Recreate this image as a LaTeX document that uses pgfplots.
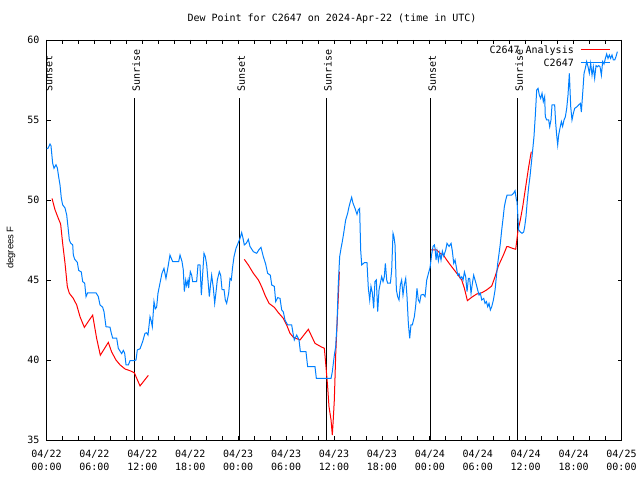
\documentclass[border=0pt]{standalone}
\usepackage{fontspec}
\setmainfont{DejaVu Sans Mono}
\newfontfamily\labelfont{Liberation Sans}
\usepackage{pgfplots}
\pgfplotsset{compat=1.18}
\definecolor{obsblue}{RGB}{0,128,255}
\definecolor{anared}{RGB}{255,0,0}
\begin{document}
\fontsize{10bp}{12.7bp}\selectfont
\begin{tikzpicture}
\begin{axis}[
  scale only axis, width=575bp, height=400bp,
  xmin=0, xmax=72, ymin=35, ymax=60,
  axis line style={line width=0.8bp},
  every tick/.style={black, line width=0.8bp},
  major tick length=4bp, minor tick length=4bp,
  tick align=inside,
  xtick={0,6,...,72}, minor xtick={0,2,...,72},
  xticklabels={{04/22\\00:00},{04/22\\06:00},{04/22\\12:00},{04/22\\18:00},{04/23\\00:00},{04/23\\06:00},{04/23\\12:00},{04/23\\18:00},{04/24\\00:00},{04/24\\06:00},{04/24\\12:00},{04/24\\18:00},{04/25\\00:00}},
  xticklabel style={align=center, inner sep=0pt, anchor=north, yshift=-10bp, font=\fontsize{10bp}{12.7bp}\selectfont},
  ytick={35,40,...,60},
  yticklabel style={inner sep=0pt, anchor=east, xshift=-7bp},
  /pgf/number format/assume math mode=true,
  title={Dew Point for C2647 on 2024-Apr-22 (time in UTC)},
  title style={at={(0.5,1)}, anchor=base, yshift=13bp, xshift=-2bp, inner sep=0pt},
  ylabel={\labelfont degrees F},
  ylabel style={at={(axis description cs:-0.0617,0.481)}, anchor=center, inner sep=0pt, font=\fontsize{9.5bp}{11bp}\selectfont},
]
% sunset / sunrise markers
\addplot[black, line width=0.8bp, forget plot] coordinates {(0.03,35) (0.03,56.36)};
\addplot[black, line width=0.8bp, forget plot] coordinates {(10.99,35) (10.99,56.36)};
\addplot[black, line width=0.8bp, forget plot] coordinates {(24.14,35) (24.14,56.36)};
\addplot[black, line width=0.8bp, forget plot] coordinates {(35.0,35) (35.0,56.36)};
\addplot[black, line width=0.8bp, forget plot] coordinates {(48.06,35) (48.06,56.36)};
\addplot[black, line width=0.8bp, forget plot] coordinates {(58.95,35) (58.95,56.36)};
\node[rotate=90, anchor=base west, inner sep=0pt] at (axis cs:0.72,56.74) {Sunset};
\node[rotate=90, anchor=base west, inner sep=0pt] at (axis cs:11.68,56.74) {Sunrise};
\node[rotate=90, anchor=base west, inner sep=0pt] at (axis cs:24.83,56.74) {Sunset};
\node[rotate=90, anchor=base west, inner sep=0pt] at (axis cs:35.69,56.74) {Sunrise};
\node[rotate=90, anchor=base west, inner sep=0pt] at (axis cs:48.75,56.74) {Sunset};
\node[rotate=90, anchor=base west, inner sep=0pt] at (axis cs:59.64,56.74) {Sunrise};
% analysis
\addplot[draw=anared, line width=1bp] coordinates {
(0.69,50.1) (1.06,49.4) (1.48,48.85) (1.77,48.5) (2.02,47.3) (2.32,46.04) (2.61,44.58) (2.86,44.17)
(3.36,43.85) (3.78,43.44) (4.20,42.7) (4.74,42.04) (5.36,42.5) (5.78,42.8) (6.28,41.35) (6.74,40.3)
(7.74,41.1) (8.16,40.5) (8.70,40.0) (9.20,39.7) (9.83,39.44) (10.46,39.33) (11.0,39.2) (11.71,38.38) (12.75,39.04)
};
\addplot[draw=anared, line width=1bp] coordinates {
(24.77,46.29) (25.27,45.94) (25.90,45.42) (26.53,45.0) (26.94,44.58) (27.44,43.96) (27.86,43.54) (28.53,43.29)
(29.03,42.96) (29.66,42.6) (30.07,42.19) (30.49,41.67) (30.91,41.42) (31.74,41.25) (32.79,41.92) (33.62,41.04)
(34.37,40.83) (34.79,40.73) (34.96,39.79) (35.21,38.3) (35.37,37.1) (35.63,36.25) (35.79,35.3) (35.92,36.4)
(36.04,37.5) (36.13,38.96) (36.21,40.3) (36.38,42.2) (36.54,43.96) (36.67,45.52)
};
\addplot[draw=anared, line width=1bp] coordinates {
(48.15,46.88) (48.86,46.88) (49.28,46.67) (49.70,46.56) (50.11,46.25) (50.74,45.83) (51.37,45.42) (51.99,45.0)
(52.33,44.48) (52.70,43.71) (53.24,43.92) (53.87,44.125) (54.50,44.2) (55.12,44.38) (55.75,44.625) (56.17,45.21)
(56.58,45.875) (57.21,46.56) (57.63,47.08) (57.83,47.08) (58.34,46.98) (58.75,46.92) (58.92,47.6) (59.04,48.1)
(59.33,48.75) (59.63,49.58) (59.88,50.42) (60.13,51.25) (60.38,52.08) (60.63,52.81) (60.71,53.02)
};
% observations
\addplot[draw=obsblue, line width=1bp] coordinates {
(0.0,53.2) (0.19,53.23) (0.44,53.5) (0.56,53.4) (0.77,52.3) (0.94,51.98) (1.19,52.2) (1.36,52.0) (1.52,51.46)
(1.69,50.94) (1.86,50.1) (2.02,49.7) (2.32,49.5) (2.53,49.06) (2.69,48.33) (2.86,47.5) (3.03,47.3) (3.28,47.2)
(3.36,46.56) (3.53,46.3) (3.86,46.1) (4.03,45.6) (4.36,45.5) (4.53,44.9) (4.78,44.8) (4.95,43.96) (5.15,44.2)
(5.53,44.2) (6.20,44.2) (6.49,43.96) (6.70,43.44) (7.03,43.3) (7.20,43.02) (7.45,42.08) (7.95,42.05) (8.12,41.67)
(8.29,41.36) (8.79,41.36) (8.99,40.73) (9.41,40.4) (9.62,40.6) (9.79,40.42) (9.96,39.69) (10.25,39.69) (10.46,39.96)
(10.96,39.96) (11.21,40.0) (11.37,40.63) (11.71,40.7) (12.04,41.15) (12.33,41.67) (12.54,41.7) (12.71,41.56)
(12.96,42.7) (13.09,42.5) (13.25,42.08) (13.46,43.65) (13.63,43.2) (13.79,43.3) (13.96,44.17) (14.21,44.8)
(14.46,45.42) (14.71,45.73) (14.96,45.1) (15.21,45.8) (15.46,46.56) (15.63,46.35) (15.80,46.15) (16.55,46.15)
(16.72,46.56) (16.97,46.15) (17.13,45.63) (17.26,44.27) (17.43,45.0) (17.55,44.65) (17.72,45.0) (17.80,44.5)
(18.01,45.52) (18.18,45.3) (18.30,44.9) (18.80,44.9) (18.97,45.94) (19.22,45.94) (19.39,44.06) (19.56,45.4)
(19.72,46.67) (19.89,46.46) (20.06,45.94) (20.22,45.0) (20.39,43.96) (20.56,44.8) (20.68,45.3) (20.89,44.5)
(21.06,43.54) (21.23,44.27) (21.39,45.0) (21.64,45.52) (21.81,45.3) (21.98,44.4) (22.23,44.4) (22.39,43.75)
(22.56,43.54) (22.81,44.17) (22.98,45.1) (23.14,45.0) (23.31,45.83) (23.48,46.46) (23.73,46.98) (23.98,47.29)
(24.23,47.6) (24.44,47.96) (24.61,47.6) (24.77,47.19) (25.02,47.3) (25.27,47.54) (25.48,47.1) (25.90,46.77)
(26.32,46.67) (26.61,46.9) (26.86,47.04) (27.15,46.46) (27.44,46.0) (27.69,45.42) (28.03,45.3) (28.20,44.69)
(28.53,44.6) (28.70,43.65) (28.95,43.9) (29.24,43.85) (29.45,43.13) (29.66,43.0) (29.86,42.5) (30.20,42.19)
(30.70,42.19) (30.87,41.67) (31.03,41.25) (31.33,41.56) (31.62,41.25) (31.79,40.52) (32.49,40.52) (32.70,39.58)
(33.62,39.58) (33.79,38.85) (35.63,38.85) (35.79,39.27) (36.04,40.3) (36.21,40.83) (36.38,42.29) (36.54,44.79)
(36.71,46.46) (36.88,46.98) (37.04,47.4) (37.21,47.92) (37.46,48.75) (37.71,49.17) (37.88,49.58) (38.05,49.9)
(38.21,50.17) (38.38,49.8) (38.63,49.48) (38.88,49.1) (39.05,49.4) (39.21,49.48) (39.34,46.875) (39.47,45.94)
(39.80,46.08) (40.13,46.08) (40.30,44.48) (40.47,43.75) (40.63,44.6) (40.80,44.2) (40.97,43.23) (41.13,44.9)
(41.30,45.0) (41.47,43.02) (41.64,44.4) (41.80,44.8) (41.97,45.21) (42.14,44.9) (42.30,45.2) (42.43,46.04)
(42.60,45.0) (42.72,44.8) (43.06,44.8) (43.22,45.6) (43.39,47.92) (43.51,47.7) (43.64,47.2) (43.81,44.38)
(43.97,43.96) (44.14,43.75) (44.31,44.7) (44.47,45.0) (44.64,44.06) (44.81,44.7) (44.98,45.1) (45.14,43.96)
(45.31,42.29) (45.48,41.35) (45.64,42.2) (45.81,42.2) (46.06,42.7) (46.23,43.4) (46.39,44.48) (46.56,43.75)
(46.73,43.6) (46.89,44.06) (47.19,44.1) (47.40,43.96) (47.61,45.0) (47.82,45.4) (48.03,45.79) (48.23,46.6)
(48.40,47.1) (48.57,47.19) (48.65,46.98) (48.78,46.25) (48.90,46.8) (49.07,46.2) (49.24,46.7) (49.40,46.25)
(49.57,46.8) (49.74,46.5) (49.99,46.88) (50.15,47.29) (50.41,47.1) (50.66,47.29) (50.82,46.8) (50.99,46.04)
(51.16,46.25) (51.32,45.8) (51.49,45.31) (51.66,45.4) (51.82,45.1) (51.99,45.2) (52.16,45.0) (52.33,45.5)
(52.49,45.2) (52.66,44.27) (52.83,45.1) (52.99,45.1) (53.16,44.17) (53.33,44.8) (53.49,45.3) (53.66,45.0)
(53.83,44.7) (53.99,44.38) (54.16,44.06) (54.33,44.17) (54.50,43.75) (54.75,43.85) (54.91,43.54) (55.08,43.65)
(55.25,43.33) (55.41,43.54) (55.58,43.13) (55.75,43.33) (55.96,43.75) (56.17,44.38) (56.33,45.21) (56.50,46.04)
(56.67,46.67) (56.83,47.29) (57.00,48.13) (57.17,48.85) (57.33,49.58) (57.50,50.0) (57.67,50.31) (58.25,50.31)
(58.46,50.4) (58.67,50.58) (58.84,50.0) (58.92,49.9) (59.00,49.2) (59.12,48.13) (59.33,48.0) (59.54,47.92)
(59.75,48.0) (59.88,48.33) (60.04,48.96) (60.21,50.0) (60.38,50.83) (60.54,51.46) (60.71,52.29) (60.88,53.13)
(61.04,53.96) (61.21,55.3) (61.38,56.875) (61.55,56.98) (61.71,56.56) (61.88,56.35) (62.05,56.67) (62.21,56.15)
(62.38,56.46) (62.46,55.21) (62.63,55.0) (62.88,55.0) (63.01,54.58) (63.17,55.0) (63.30,55.94) (63.63,55.94)
(63.76,54.8) (63.88,54.06) (64.01,53.44) (64.13,54.06) (64.30,54.5) (64.47,54.9) (64.63,54.6) (64.80,55.0)
(64.97,55.2) (65.14,55.73) (65.30,56.56) (65.47,57.92) (65.64,55.83) (65.80,55.0) (65.97,55.42) (66.14,55.73)
(66.43,55.83) (66.64,55.94) (66.85,56.04) (66.97,55.5) (67.14,56.67) (67.31,57.92) (67.47,58.23) (67.64,58.65)
(67.81,58.33) (67.97,57.92) (68.14,58.54) (68.31,57.8) (68.47,58.33) (68.64,57.6) (68.81,58.4) (68.98,58.33)
(69.14,58.4) (69.31,58.33) (69.48,57.8) (69.64,58.65) (69.81,58.5) (69.98,58.85) (70.14,59.125) (70.31,58.85)
(70.48,59.06) (70.64,58.85) (70.81,59.06) (70.98,58.75) (71.15,58.75) (71.31,58.96) (71.48,59.27)
};
% legend
\node[anchor=base east, inner sep=0pt] at (rel axis cs:0.9174,0.9659) {C2647 Analysis};
\node[anchor=base east, inner sep=0pt] at (rel axis cs:0.9174,0.9346) {C2647};
\draw[anared, line width=1bp] (rel axis cs:0.9287,0.975) -- (rel axis cs:0.9800,0.975);
\draw[obsblue, line width=1bp] (rel axis cs:0.9287,0.94375) -- (rel axis cs:0.9800,0.94375);
\end{axis}
\pgfresetboundingbox
\path[use as bounding box] (-46.5bp,-40bp) rectangle (593.5bp,440bp);
\end{tikzpicture}
\end{document}
